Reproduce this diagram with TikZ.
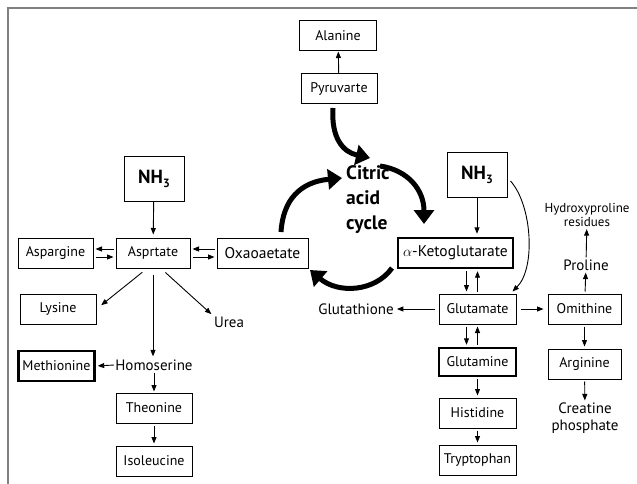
\documentclass[tikz,border=0pt]{standalone}
\usepackage{fontspec}
\setmainfont{PT Sans}
\usetikzlibrary{arrows.meta}
\begin{document}
\begin{tikzpicture}[x=1pt,y=-1pt,
 box/.style={draw, line width=1pt, minimum height=30pt, font=\fontsize{14}{16}\selectfont, inner sep=0pt},
 tbox/.style={box, line width=2.4pt},
 lab/.style={font=\fontsize{15}{17}\selectfont, inner sep=1pt, align=center},
 nhbox/.style={draw, line width=1pt, minimum width=60pt, minimum height=45pt, inner sep=0pt, font=\bfseries\fontsize{19}{20}\selectfont},
 arr/.style={-{Triangle[length=6.5pt,width=5pt]}, line width=0.9pt},
 big/.style={line width=5pt, -{Triangle[length=14pt,width=20pt]}},
]
\useasboundingbox (0,0) rectangle (637,484);
\draw[line width=2pt, color=black!50] (8,484) -- (8,8) -- (637,8);

% top
\node[box, minimum width=77pt] (ala) at (338,36) {Alanine};
\node[box, minimum width=76pt] (pyr) at (339,88.5) {Pyruvarte};
\draw[arr] (pyr) -- (ala);

% citric acid cycle
\node[font=\bfseries\fontsize{19.5}{25}\selectfont, align=left, anchor=west, inner sep=0pt] (cyc) at (346,200) {Citric\\acid\\cycle};

% left side
\node[nhbox] (nha) at (154,179) {NH\raisebox{-4pt}{\fontsize{12}{12}\selectfont 3}};
\node[box, minimum width=75pt] (asp) at (55.5,253) {Aspargine};
\node[box, minimum width=74pt] (aspt) at (153,253) {Asprtate};
\node[box, minimum width=91pt, font=\fontsize{15.5}{17}\selectfont] (oxa) at (262.5,253) {Oxaoaetate};
\draw[arr, shorten >=3pt] (nha) -- (aspt);
\draw[arr, shorten <=2pt, shorten >=2pt] ([yshift=4pt]aspt.west) -- ([yshift=4pt]asp.east);
\draw[arr, shorten <=2pt, shorten >=2pt] ([yshift=-4pt]asp.east) -- ([yshift=-4pt]aspt.west);
\draw[arr, shorten <=2pt, shorten >=2pt] ([yshift=4pt]oxa.west) -- ([yshift=4pt]aspt.east);
\draw[arr, shorten <=2pt, shorten >=2pt] ([yshift=-4pt]aspt.east) -- ([yshift=-4pt]oxa.west);

\node[box, minimum width=76pt] (lys) at (58,309) {Lysine};
\node[lab] (urea) at (229,322) {Urea};
\node[lab] (homo) at (154,365) {Homoserine};
\node[tbox, minimum width=76pt, minimum height=30pt] (met) at (56.5,366) {Methionine};
\node[box, minimum width=76pt] (theo) at (154,408) {Theonine};
\node[box, minimum width=76pt] (iso) at (154,461) {Isoleucine};
\draw[arr, shorten <=6pt, shorten >=6pt] ([xshift=-6pt]aspt.south) -- (lys.east);
\draw[arr, shorten <=6pt, shorten >=2pt] ([xshift=8pt]aspt.south) -- (urea.north west);
\draw[arr, shorten <=6pt, shorten >=2pt] (aspt.south) -- (aspt.south |- homo.north);
\draw[arr, shorten >=2pt] (homo.west) -- (met.east);
\draw[arr, shorten <=1pt, shorten >=1pt] (homo.south -| theo.north) -- (theo.north);
\draw[arr, shorten <=2pt, shorten >=2pt] (theo) -- (iso);

% right side
\node[nhbox] (nhb) at (477,175) {NH\raisebox{-4pt}{\fontsize{12}{12}\selectfont 3}};
\node[tbox, minimum width=115pt, font=\fontsize{15.5}{17}\selectfont] (ak) at (455.5,253) {$\alpha$-Ketoglutarate};
\node[box, minimum width=77pt] (glu) at (477.5,309) {Glutamate};
\node[tbox, minimum width=77pt, minimum height=28pt] (gln) at (477.5,362) {Glutamine};
\node[box, minimum width=77pt] (his) at (477.5,413) {Histidine};
\node[box, minimum width=77pt] (try) at (477.5,460) {Tryptophan};
\node[box, minimum width=73pt] (omi) at (584.5,309) {Omithine};
\node[box, minimum width=73pt] (arg) at (584.5,364) {Arginine};
\node[lab] (pro) at (586,265) {Proline};
\node[lab, font=\fontsize{13}{14.5}\selectfont] (hyd) at (587,215) {Hydroxyproline\\residues};
\node[lab] (cre) at (585,418) {Creatine\\phosphate};
\node[lab] (gth) at (356,309) {Glutathione};

\draw[arr, shorten >=3pt] (nhb) -- (nhb |- ak.north);
\draw[arr, shorten <=2pt, shorten >=2pt] ([xshift=-11pt]glu.north |- ak.south) -- ([xshift=-11pt]glu.north);
\draw[arr, shorten <=2pt, shorten >=2pt] (glu.north) -- (glu.north |- ak.south);
\draw[arr, shorten <=2pt, shorten >=2pt] ([xshift=-11pt]glu.south) -- ([xshift=-11pt]gln.north);
\draw[arr, shorten <=2pt, shorten >=2pt] (gln.north) -- (glu.south);
\draw[arr, shorten <=2pt, shorten >=2pt] (gln) -- (his);
\draw[arr, shorten <=2pt, shorten >=2pt] (his) -- (try);
\draw[arr, shorten <=4pt, shorten >=4pt] (glu) -- (omi);
\draw[arr, shorten <=4pt, shorten >=2pt] (glu) -- (gth);
\draw[arr, shorten <=2pt, shorten >=1pt] (omi) -- (pro);
\draw[arr, shorten <=1pt, shorten >=1pt] (pro) -- (hyd);
\draw[arr, shorten <=2pt, shorten >=1pt] (arg) -- (cre);
\draw[arr, shorten <=2pt, shorten >=2pt] (omi) -- (arg);
\draw[arr] ([xshift=3pt,yshift=-6pt]nhb.east) .. controls (532,205) and (536,268) .. ([xshift=-4pt,yshift=2pt]glu.north east);

% big cycle arrows
\coordinate (c1s) at (333,108);
\coordinate (c1e) at (370,158);
\draw[big] (c1s) .. controls (331,138) and (343,152) .. (c1e);
\coordinate (c2s) at (380,166);
\coordinate (c2e) at (424,224);
\draw[big] (c2s) .. controls (408,170) and (424,190) .. (c2e);
\coordinate (c3s) at (281,232);
\coordinate (c3e) at (342,178);
\draw[big] (c3s) .. controls (283,200) and (300,182) .. (c3e);
\coordinate (c4s) at (392,268);
\coordinate (c4e) at (310,270);
\draw[big] (c4s) .. controls (375,292) and (338,294) .. (c4e);
\end{tikzpicture}
\end{document}
